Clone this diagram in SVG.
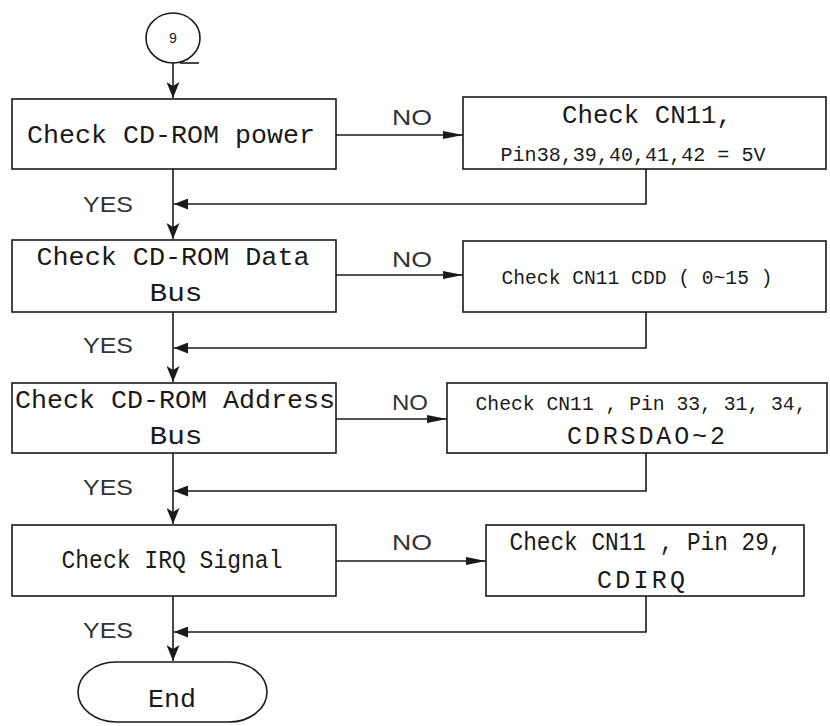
<svg xmlns="http://www.w3.org/2000/svg" width="830" height="726" viewBox="0 0 830 726">
<defs>
<style>
.box{fill:#fff;stroke:#1a1a1a;stroke-width:1.6}
.ln{fill:none;stroke:#1a1a1a;stroke-width:1.6}
.t{font-family:"Liberation Mono","DejaVu Sans Mono",monospace;font-size:25px;fill:#1a1a1a;text-anchor:middle}
.s{font-size:21px}
.lab{font-family:"Liberation Sans",Arial,sans-serif;font-size:22px;fill:#333}
</style>
<marker id="ad" markerUnits="userSpaceOnUse" markerWidth="16" markerHeight="13" refX="16" refY="6.5" orient="auto"><path d="M0,0 L16,6.5 L0,13 L4,6.5 z" fill="#1a1a1a"/></marker>
<marker id="ar" markerUnits="userSpaceOnUse" markerWidth="20" markerHeight="8" refX="20" refY="4" orient="auto"><path d="M0,0 L20,4 L0,8 z" fill="#1a1a1a"/></marker>
<marker id="al" markerUnits="userSpaceOnUse" markerWidth="14" markerHeight="11" refX="14" refY="5.5" orient="auto"><path d="M0,0 L14,5.5 L0,11 z" fill="#1a1a1a"/></marker>
</defs>
<rect width="830" height="726" fill="#fff"/>

<g id="connectors">
<line class="ln" x1="173" y1="63" x2="173" y2="98" marker-end="url(#ad)"/>
<line class="ln" x1="180" y1="63" x2="199" y2="63"/>
<line class="ln" x1="336" y1="135" x2="463" y2="135" marker-end="url(#ar)"/>
<polyline class="ln" points="646,169 646,204 174,204" marker-end="url(#al)"/>
<line class="ln" x1="173" y1="169" x2="173" y2="239" marker-end="url(#ad)"/>
<line class="ln" x1="336" y1="275" x2="463" y2="275" marker-end="url(#ar)"/>
<polyline class="ln" points="646,312 646,348 174,348" marker-end="url(#al)"/>
<line class="ln" x1="173" y1="312" x2="173" y2="382" marker-end="url(#ad)"/>
<line class="ln" x1="336" y1="419" x2="447" y2="419" marker-end="url(#ar)"/>
<polyline class="ln" points="646,453 646,491 174,491" marker-end="url(#al)"/>
<line class="ln" x1="173" y1="453" x2="173" y2="524" marker-end="url(#ad)"/>
<line class="ln" x1="336" y1="561" x2="486" y2="561" marker-end="url(#ar)"/>
<polyline class="ln" points="646,596 646,632 174,632" marker-end="url(#al)"/>
<line class="ln" x1="173" y1="596" x2="173" y2="661" marker-end="url(#ad)"/>
<text class="lab" x="392" y="125" textLength="40" lengthAdjust="spacingAndGlyphs">NO</text>
<text class="lab" x="392" y="267" textLength="40" lengthAdjust="spacingAndGlyphs">NO</text>
<text class="lab" x="392" y="410" textLength="36" lengthAdjust="spacingAndGlyphs">NO</text>
<text class="lab" x="392" y="550" textLength="40" lengthAdjust="spacingAndGlyphs">NO</text>
<text class="lab" x="83" y="212" textLength="50" lengthAdjust="spacingAndGlyphs">YES</text>
<text class="lab" x="83" y="353" textLength="50" lengthAdjust="spacingAndGlyphs">YES</text>
<text class="lab" x="83" y="495" textLength="50" lengthAdjust="spacingAndGlyphs">YES</text>
<text class="lab" x="83" y="638" textLength="50" lengthAdjust="spacingAndGlyphs">YES</text>
</g>

<g id="start">
<ellipse class="box" cx="173" cy="38" rx="27" ry="25"/>
<text class="t" x="173" y="43" style="font-size:14px">9</text>
</g>

<g id="n1">
<rect class="box" x="12" y="99" width="324" height="70"/>
<text class="t" x="171" y="143" textLength="288" lengthAdjust="spacingAndGlyphs">Check CD-ROM power</text>
</g>
<g id="r1">
<rect class="box" x="463" y="97" width="363" height="72"/>
<text class="t" x="647" y="123" textLength="170" lengthAdjust="spacingAndGlyphs">Check CN11,</text>
<text class="t s" x="633" y="161" textLength="265" lengthAdjust="spacingAndGlyphs">Pin38,39,40,41,42 = 5V</text>
</g>

<g id="n2">
<rect class="box" x="12" y="240" width="324" height="72"/>
<text class="t" x="173" y="265" textLength="273" lengthAdjust="spacingAndGlyphs">Check CD-ROM Data</text>
<text class="t" x="176" y="301" textLength="53" lengthAdjust="spacingAndGlyphs">Bus</text>
</g>
<g id="r2">
<rect class="box" x="463" y="241" width="363" height="71"/>
<text class="t s" x="637" y="284" textLength="271" lengthAdjust="spacingAndGlyphs">Check CN11 CDD ( 0~15 )</text>
</g>

<g id="n3">
<rect class="box" x="12" y="383" width="324" height="70"/>
<text class="t" x="175" y="408" textLength="320" lengthAdjust="spacingAndGlyphs">Check CD-ROM Address</text>
<text class="t" x="176" y="444" textLength="53" lengthAdjust="spacingAndGlyphs">Bus</text>
</g>
<g id="r3">
<rect class="box" x="447" y="383" width="380" height="70"/>
<text class="t s" x="641" y="410" textLength="331" lengthAdjust="spacingAndGlyphs">Check CN11 , Pin 33, 31, 34,</text>
<text class="t" x="646" y="444" textLength="158" lengthAdjust="spacing">CDRSDAO~2</text>
</g>

<g id="n4">
<rect class="box" x="12" y="525" width="324" height="71"/>
<text class="t" x="172" y="568" textLength="221" lengthAdjust="spacingAndGlyphs">Check IRQ Signal</text>
</g>
<g id="r4">
<rect class="box" x="486" y="525" width="318" height="71"/>
<text class="t" x="646" y="550" textLength="273" lengthAdjust="spacingAndGlyphs">Check CN11 , Pin 29,</text>
<text class="t" x="641" y="588" textLength="88" lengthAdjust="spacing">CDIRQ</text>
</g>

<g id="end">
<rect class="box" x="78" y="662" width="189" height="60" rx="38" ry="30"/>
<text class="t" x="172" y="707" textLength="48" lengthAdjust="spacingAndGlyphs">End</text>
</g>
</svg>
